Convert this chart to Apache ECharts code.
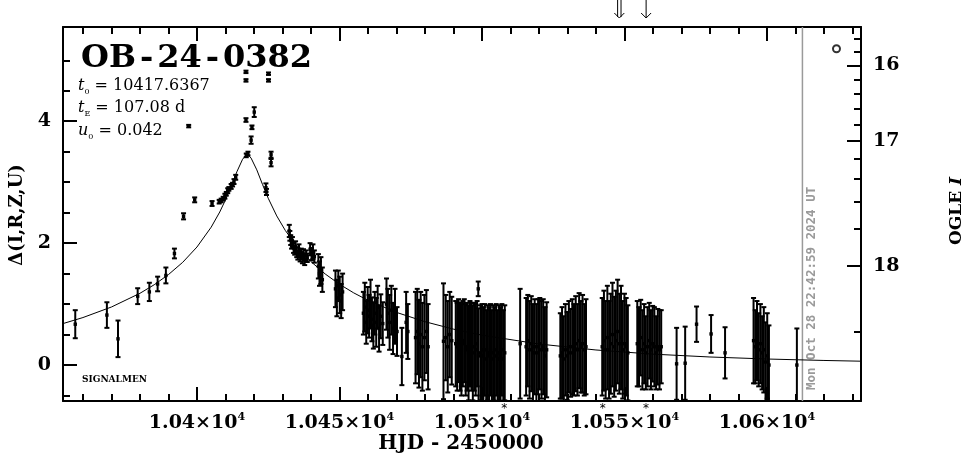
<!DOCTYPE html>
<html><head><meta charset="utf-8">
<script src="https://cdn.jsdelivr.net/npm/echarts@6/dist/echarts.min.js"></script>
<style>html,body{margin:0;padding:0;background:#fff}#c{width:965px;height:459px}</style>
</head><body><div id="c"></div>
<script>
// ---------- axes ----------
const X_MIN = 10353, X_MAX = 10633;
const Y_MIN = -0.59, Y_MAX = 5.546;
const xMajorTicks = [10400, 10450, 10500, 10550, 10600];
const xTickLabels = ['1.04×10', '1.045×10', '1.05×10', '1.055×10', '1.06×10'];
const xMinorTicks = [10360,10370,10380,10390,10410,10420,10430,10440,10460,10470,10480,10490,10510,10520,10530,10540,10560,10570,10580,10590,10610,10620,10630];
const yMajorTicks = [0, 2, 4];
const yMinorTicks = [-0.5, 0.5, 1, 1.5, 2.5, 3, 3.5, 4.5, 5];
// OGLE I magnitude axis (right), positions in Delta units
const magLabels = ['16', '17', '18'];
const magMajorDelta = [4.917, 3.677, 1.622];
const magMinorDelta = [5.360, 5.141, 4.688, 4.452, 4.207, 3.950, 3.383, 3.057, 2.685, 2.232, 0.548];

// ---------- observations: HJD-2450000, Delta, error ----------
const obsT = [10357.3,10368.4,10372.3,10379.2,10383.3,10386.2,10389.1,10392.1,10395.3,10397.1,10399.2,10405.3,
 10407.8,10408.5,10409.2,10409.8,10410.3,10410.8,10411.2,10412.0,10412.5,10413.0,10413.6,
 10417.3,10417.9,10417.2,10417.2,10420.1,10417.2,10419.3,10419.0,10425.1,10425.1,10426.0,10426.0,10424.2,10424.4,
 10432.4,10432.6,10432.9,10433.2,10433.5,10433.9,10434.3,10434.6,10435.0,10435.4,10435.8,10436.2,10436.6,10437.0,10437.4,10437.8,10438.3,10438.7,
 10439.7,10440.2,10440.7,10441.2,10442.6,10443.0,10443.5,10444.0,
 10448.6,10449.1,10449.6,10450.1,10450.6,10451.1,
 10458.4,10458.9,10459.4,10459.9,10460.4,10460.9,10461.4,10461.9,10462.4,10462.9,10463.4,10463.9,10464.5,10465.2,
 10466.5,10467.0,10467.6,10468.2,10468.8,10469.5,10470.2,10471.9,10473.4,10474.0,
 10476.7,10477.3,10477.9,10478.5,10479.1,10479.8,10480.5,10481.1,
 10486.5,10487.3,10488.0,10488.7,10489.4,
 10490.8,10491.3,10491.8,10492.3,10492.8,10493.3,10493.8,10494.3,10494.8,10495.3,10495.8,10496.3,10496.8,10497.3,10497.8,10498.3,10498.8,10498.7,
 10499.5,10500.0,10500.5,10501.0,10501.5,10502.0,10502.5,10503.0,10503.5,10504.0,10504.5,10505.0,10505.5,10506.0,10506.5,10507.0,10507.5,10508.0,
 10513.4,
 10515.5,10516.1,10516.7,10517.3,10517.9,10518.5,10519.1,10519.7,10520.3,10520.9,10521.5,10522.1,10522.7,
 10527.5,10528.1,10528.7,10529.3,10529.9,10530.5,10531.1,10531.7,10532.3,10532.9,10533.5,10534.1,10534.7,10535.3,10535.9,10536.5,
 10542.2,10542.8,10543.4,10544.0,10544.6,10545.2,10545.8,10546.4,10547.0,10547.6,10548.2,10548.8,10549.4,10550.0,10550.6,10551.2,
 10554.5,10555.1,10555.7,10556.3,10556.9,10557.5,10558.1,10558.7,10559.3,10559.9,10560.5,10561.1,10561.7,10562.3,10562.9,
 10568.3,10571.3,10575.3,10580.4,10585.3,
 10595.3,10595.9,10596.5,10597.1,10597.7,10598.3,10598.9,10599.5,10600.1,10600.7,10610.5];
const obsD = [0.67,0.82,0.43,1.13,1.20,1.33,1.47,1.83,2.44,3.92,2.71,2.65,
 2.68,2.70,2.73,2.77,2.81,2.86,2.89,2.93,2.96,3.01,3.08,
 3.44,3.47,4.81,4.67,4.15,4.02,3.90,3.69,4.78,4.67,3.45,3.32,2.91,2.84,
 2.20,2.12,2.05,1.98,2.02,1.92,1.88,1.95,1.85,1.80,1.90,1.78,1.84,1.75,1.82,1.72,1.80,1.76,
 1.90,1.82,1.86,1.78,1.62,1.50,1.55,1.40,
 1.25,1.10,1.30,1.15,1.05,1.20,
 0.85,0.95,0.70,0.90,0.80,1.00,0.75,0.65,0.85,0.70,0.95,0.60,0.80,0.68,
 1.00,0.85,0.70,0.90,0.60,0.80,0.55,0.14,0.70,0.55,
 0.45,0.55,0.35,0.50,0.30,0.45,0.55,0.30,
 0.39,0.45,0.30,0.50,0.40,
 0.35,0.30,0.40,0.30,0.25,0.35,0.40,0.25,0.30,0.20,0.35,0.30,0.20,0.30,0.25,0.35,0.15,1.25,
 0.20,0.25,0.15,0.25,0.10,0.20,0.15,0.25,0.10,0.20,0.15,0.25,0.10,0.20,0.15,0.25,0.10,0.20,
 0.35,
 0.30,0.40,0.25,0.35,0.20,0.30,0.20,0.30,0.35,0.25,0.30,0.15,0.25,
 0.15,0.20,0.10,0.25,0.15,0.30,0.20,0.30,0.25,0.35,0.25,0.40,0.30,0.35,0.25,0.30,
 0.30,0.40,0.25,0.45,0.25,0.35,0.50,0.30,0.40,0.55,0.35,0.45,0.25,0.35,0.30,0.20,
 0.35,0.30,0.45,0.25,0.35,0.20,0.30,0.40,0.25,0.35,0.30,0.20,0.30,0.25,0.30,
 0.02,0.03,0.67,0.51,0.20,
 0.40,0.30,0.40,0.25,0.35,0.20,0.25,0.05,0.15,0.00,0.00];
const obsE = [0.23,0.21,0.30,0.13,0.15,0.12,0.13,0.08,0.05,0.02,0.04,0.04,
 0.03,0.03,0.03,0.04,0.03,0.04,0.03,0.04,0.03,0.04,0.04,
 0.03,0.03,0.02,0.02,0.08,0.03,0.03,0.06,0.02,0.02,0.05,0.06,0.07,0.05,
 0.10,0.08,0.08,0.07,0.08,0.08,0.07,0.08,0.08,0.07,0.08,0.08,0.07,0.08,0.08,0.08,0.08,0.07,
 0.10,0.10,0.12,0.10,0.20,0.20,0.22,0.20,
 0.30,0.30,0.25,0.30,0.28,0.30,
 0.35,0.40,0.35,0.38,0.35,0.40,0.36,0.38,0.35,0.40,0.35,0.38,0.36,0.35,
 0.42,0.40,0.45,0.40,0.42,0.45,0.40,0.47,0.50,0.45,
 0.75,0.70,0.72,0.70,0.72,0.70,0.68,0.70,
 0.95,0.70,0.75,0.70,0.72,
 0.70,0.72,0.68,0.72,0.75,0.70,0.68,0.75,0.72,0.78,0.70,0.72,0.78,0.72,0.75,0.70,0.78,0.12,
 0.78,0.75,0.80,0.75,0.80,0.78,0.80,0.75,0.80,0.78,0.80,0.75,0.80,0.78,0.80,0.75,0.80,0.78,
 0.90,
 0.80,0.75,0.80,0.78,0.80,0.78,0.80,0.78,0.75,0.80,0.78,0.80,0.78,
 0.70,0.75,0.70,0.75,0.72,0.75,0.72,0.78,0.75,0.78,0.75,0.78,0.75,0.80,0.75,0.78,
 0.80,0.82,0.80,0.85,0.80,0.82,0.85,0.82,0.82,0.85,0.82,0.85,0.80,0.82,0.80,0.78,
 0.70,0.65,0.62,0.65,0.65,0.60,0.65,0.62,0.65,0.62,0.65,0.60,0.62,0.65,0.60,
 0.59,0.60,0.29,0.31,0.42,
 0.70,0.60,0.65,0.60,0.65,0.60,0.70,0.65,0.70,0.65,0.60];

// ---------- model curve ----------
const modelT = [10353,10360,10370,10380,10385,10390,10395,10400,10405,10408,10410,10412,10414,10416,10417,10417.64,10418.3,10419,10421,10423,10425,10428,10431,10435,10440,10445,10450,10455,10460,10470,10480,10490,10500,10520,10540,10560,10580,10600,10620,10633];
const modelD = [0.680,0.779,0.952,1.177,1.317,1.484,1.685,1.936,2.262,2.511,2.708,2.931,3.170,3.375,3.432,3.443,3.431,3.395,3.202,2.963,2.737,2.446,2.208,1.951,1.697,1.494,1.326,1.184,1.062,0.864,0.711,0.589,0.490,0.345,0.247,0.179,0.132,0.099,0.075,0.063];

// ---------- annotations ----------
const arrowT = [10548.2, 10557.6];
const arrowKind = [2, 1];          // double, single
const starT = [10507.8, 10542.4, 10557.6];
const circleT = [10624.4], circleD = [5.19];
const nowT = 10612.45;
const nowLabel = 'Mon Oct 28 22:42:59 2024 UT';

const SERIF = '"DejaVu Serif", serif';
const BLACK = '#000';

const chart = echarts.init(document.getElementById('c'), null, {renderer: 'canvas'});

function xAxisDef(pos, ticks, len, line, labels) {
  return {
    type: 'value', min: X_MIN, max: X_MAX, position: pos,
    axisLine: {show: line, onZero: false, lineStyle: {color: BLACK, width: 2}},
    axisTick: {show: true, inside: true, length: len, customValues: ticks, lineStyle: {color: BLACK, width: 2}},
    axisLabel: labels ? {
      show: true, customValues: xMajorTicks, margin: 11,
      formatter: v => { let i = 0, b = 1e9; xMajorTicks.forEach((t, k) => { if (Math.abs(t - v) < b) { b = Math.abs(t - v); i = k; } }); return '{m|' + xTickLabels[i] + '}{s|4}'; },
      rich: {
        m: {fontFamily: SERIF, fontWeight: 'bold', fontSize: 19, color: BLACK, lineHeight: 22},
        s: {fontFamily: SERIF, fontWeight: 'bold', fontSize: 11, color: BLACK, verticalAlign: 'top', lineHeight: 22, padding: [0, 0, 9, 0]}
      }
    } : {show: false},
    splitLine: {show: false}
  };
}
function yAxisDef(pos, ticks, len, line, labelVals, fmt) {
  return {
    type: 'value', min: Y_MIN, max: Y_MAX, position: pos,
    axisLine: {show: line, onZero: false, lineStyle: {color: BLACK, width: 2}},
    axisTick: {show: true, inside: true, length: len, customValues: ticks, lineStyle: {color: BLACK, width: 2}},
    axisLabel: labelVals ? {
      show: true, customValues: labelVals, margin: 12, formatter: fmt,
      fontFamily: SERIF, fontWeight: 'bold', fontSize: 19, color: BLACK
    } : {show: false},
    splitLine: {show: false}
  };
}

function renderErr(params, api) {
  const t = api.value(0), d = api.value(1), e = api.value(2);
  const c = api.coord([t, d]), lo = api.coord([t, d - e]), hi = api.coord([t, d + e]);
  const st = {stroke: BLACK, lineWidth: 2};
  return {type: 'group', children: [
    {type: 'line', shape: {x1: c[0], y1: hi[1], x2: c[0], y2: lo[1]}, style: st},
    {type: 'line', shape: {x1: c[0] - 2.5, y1: hi[1], x2: c[0] + 2.5, y2: hi[1]}, style: st},
    {type: 'line', shape: {x1: c[0] - 2.5, y1: lo[1], x2: c[0] + 2.5, y2: lo[1]}, style: st},
    {type: 'rect', shape: {x: c[0] - 1.7, y: c[1] - 1.7, width: 3.4, height: 3.4}, style: {fill: BLACK}}
  ]};
}
function renderArrow(params, api) {
  const t = api.value(0), k = api.value(1);
  const top = api.coord([t, Y_MAX]);
  const x = top[0], y0 = top[1] - 27, y1 = top[1] - 9;
  const st = {stroke: BLACK, lineWidth: 1};
  const ch = [];
  if (k === 2) {
    ch.push({type: 'line', shape: {x1: x - 1.7, y1: y0, x2: x - 1.7, y2: y1 - 1}, style: st});
    ch.push({type: 'line', shape: {x1: x + 1.7, y1: y0, x2: x + 1.7, y2: y1 - 1}, style: st});
  } else {
    ch.push({type: 'line', shape: {x1: x, y1: y0, x2: x, y2: y1}, style: st});
  }
  ch.push({type: 'polyline', shape: {points: [[x - 5, y1 - 5], [x, y1], [x + 5, y1 - 5]]}, style: {stroke: BLACK, lineWidth: 1, fill: null}});
  return {type: 'group', children: ch};
}
function renderStar(params, api) {
  const b = api.coord([api.value(0), Y_MIN]);
  return {type: 'text', x: b[0], y: b[1] + 8, style: {text: '*', font: '12px "DejaVu Sans"', fill: BLACK, align: 'center', verticalAlign: 'middle'}};
}
function renderNow(params, api) {
  const t = api.value(0);
  const top = api.coord([t, Y_MAX]), bot = api.coord([t, Y_MIN]);
  return {type: 'group', children: [
    {type: 'line', shape: {x1: top[0], y1: top[1], x2: bot[0], y2: bot[1]}, style: {stroke: '#9a9a9a', lineWidth: 1.5}},
    {type: 'text', x: top[0] + 9, y: bot[1] - 11, rotation: Math.PI / 2,
     style: {text: nowLabel, font: 'bold 12.5px "DejaVu Sans Mono"', fill: '#9a9a9a', align: 'left', verticalAlign: 'middle'}}
  ]};
}

const option = {
  animation: false,
  backgroundColor: '#fff',
  grid: {left: 63, right: 104, top: 27, bottom: 58, containLabel: false},
  xAxis: [
    xAxisDef('bottom', xMajorTicks, 14, true, true),
    xAxisDef('bottom', xMinorTicks, 7, false, false),
    xAxisDef('top', xMajorTicks, 14, true, false),
    xAxisDef('top', xMinorTicks, 7, false, false)
  ],
  yAxis: [
    yAxisDef('left', yMajorTicks, 14, true, yMajorTicks, v => String(Math.round(v))),
    yAxisDef('left', yMinorTicks, 7, false, null),
    yAxisDef('right', magMajorDelta, 14, true, magMajorDelta, v => { let i = 0, b = 1e9; magMajorDelta.forEach((d, k) => { if (Math.abs(d - v) < b) { b = Math.abs(d - v); i = k; } }); return magLabels[i]; }),
    yAxisDef('right', magMinorDelta, 7, false, null)
  ],
  series: [
    {type: 'line', name: 'model', xAxisIndex: 0, yAxisIndex: 0, data: modelT.map((t, i) => [t, modelD[i]]),
     showSymbol: false, symbol: 'none', lineStyle: {color: BLACK, width: 1}, z: 2, silent: true},
    {type: 'custom', name: 'obs', xAxisIndex: 0, yAxisIndex: 0, clip: true, renderItem: renderErr,
     data: obsT.map((t, i) => [t, obsD[i], obsE[i]]), z: 3, silent: true},
    {type: 'custom', name: 'now', xAxisIndex: 0, yAxisIndex: 0, clip: false, renderItem: renderNow, data: [[nowT]], z: 1, silent: true},
    {type: 'custom', name: 'arrows', xAxisIndex: 0, yAxisIndex: 0, clip: false, renderItem: renderArrow,
     data: arrowT.map((t, i) => [t, arrowKind[i]]), silent: true},
    {type: 'custom', name: 'stars', xAxisIndex: 0, yAxisIndex: 0, clip: false, renderItem: renderStar,
     data: starT.map(t => [t]), silent: true},
    {type: 'scatter', name: 'circle', xAxisIndex: 0, yAxisIndex: 0, symbol: 'circle', symbolSize: 7,
     itemStyle: {color: '#fff', borderColor: BLACK, borderWidth: 2}, data: circleT.map((t, i) => [t, circleD[i]]), silent: true}
  ],
  graphic: [
    {type: 'text', left: 81, top: 43, style: {
      text: '{a|OB}{h|-}{a|24}{h|-}{a|0382}',
      rich: {a: {fontFamily: SERIF, fontWeight: 'bold', fontSize: 32, fill: BLACK},
             h: {fontFamily: SERIF, fontWeight: 'bold', fontSize: 32, fill: BLACK, padding: [0, 4]}}}},
    {type: 'text', left: 78, top: 78, style: {text: '{i|t}{s|0}{n| = 10417.6367}', rich: {
      i: {fontFamily: SERIF, fontStyle: 'italic', fontSize: 16, fill: BLACK, lineHeight: 19},
      s: {fontFamily: SERIF, fontSize: 8, fill: BLACK, verticalAlign: 'bottom', lineHeight: 19},
      n: {fontFamily: SERIF, fontSize: 16, fill: BLACK, lineHeight: 19}}}},
    {type: 'text', left: 78, top: 100, style: {text: '{i|t}{s|E}{n| = 107.08 d}', rich: {
      i: {fontFamily: SERIF, fontStyle: 'italic', fontSize: 16, fill: BLACK, lineHeight: 19},
      s: {fontFamily: SERIF, fontSize: 8, fill: BLACK, verticalAlign: 'bottom', lineHeight: 19},
      n: {fontFamily: SERIF, fontSize: 16, fill: BLACK, lineHeight: 19}}}},
    {type: 'text', left: 78, top: 123, style: {text: '{i|u}{s|0}{n| = 0.042}', rich: {
      i: {fontFamily: SERIF, fontStyle: 'italic', fontSize: 16, fill: BLACK, lineHeight: 19},
      s: {fontFamily: SERIF, fontSize: 8, fill: BLACK, verticalAlign: 'bottom', lineHeight: 19},
      n: {fontFamily: SERIF, fontSize: 16, fill: BLACK, lineHeight: 19}}}},
    {type: 'text', left: 82, top: 375, style: {text: 'SIGNALMEN', font: 'bold 9px ' + SERIF, fill: BLACK}},
    {type: 'text', x: 17, y: 215, rotation: Math.PI / 2, style: {text: 'Δ(I,R,Z,U)', font: 'bold 18px ' + SERIF, fill: BLACK, align: 'center', verticalAlign: 'middle'}},
    {type: 'text', x: 957, y: 211, rotation: Math.PI / 2, style: {text: '{n|OGLE }{i|I}', align: 'center', verticalAlign: 'middle', rich: {
      n: {fontFamily: SERIF, fontWeight: 'bold', fontSize: 17, fill: BLACK},
      i: {fontFamily: SERIF, fontWeight: 'bold', fontStyle: 'italic', fontSize: 17, fill: BLACK}}}},
    {type: 'text', x: 461, y: 444, style: {text: 'HJD - 2450000', font: 'bold 20px ' + SERIF, fill: BLACK, align: 'center', verticalAlign: 'middle'}}
  ]
};
chart.setOption(option);
</script>
</body></html>
